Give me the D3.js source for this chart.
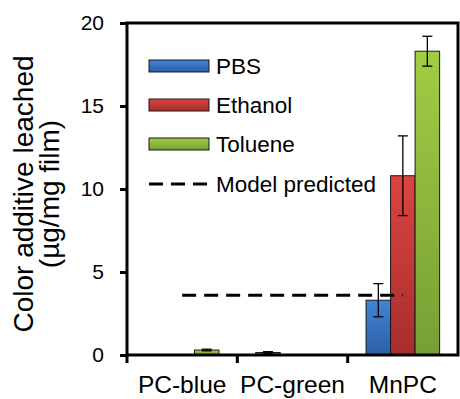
<!DOCTYPE html>
<html>
<head>
<meta charset="utf-8">
<script src="https://cdn.jsdelivr.net/npm/d3@7"></script>
<style>
  body { margin: 0; background: #fff; }
  text { font-family: Arial, "Liberation Sans", sans-serif; fill: #000; }
</style>
</head>
<body>
<script>
var width = 460, height = 399;
var margin = { top: 23, right: 2, bottom: 44, left: 127 };

// data
var categories = ['PC-blue', 'PC-green', 'MnPC'];
var series = ['PBS', 'Ethanol', 'Toluene'];
var pbs = [0, 0.15, 3.3];
var pbsErr = [0, 0.05, 1.0];
var ethanol = [0, 0, 10.8];
var ethanolErr = [0, 0, 2.4];
var toluene = [0.3, 0, 18.3];
var tolueneErr = [0.05, 0, 0.9];
var modelPredicted = 3.6;
var yTicks = [0, 5, 10, 15, 20];

var values = [pbs, ethanol, toluene];
var errors = [pbsErr, ethanolErr, tolueneErr];
var colors = {
  PBS: ['#4384d6', '#2c5ea6'],
  Ethanol: ['#dc4440', '#a62e2c'],
  Toluene: ['#a2cc44', '#76a034']
};

var svg = d3.select('body').append('svg')
  .attr('width', width)
  .attr('height', height);

var defs = svg.append('defs');
series.forEach(function(s){
  var g = defs.append('linearGradient')
    .attr('id', 'grad-' + s)
    .attr('x1', 0).attr('y1', 0).attr('x2', 0).attr('y2', 1);
  g.append('stop').attr('offset', '0%').attr('stop-color', colors[s][0]);
  g.append('stop').attr('offset', '100%').attr('stop-color', colors[s][1]);
});

var x = d3.scaleBand()
  .domain(categories)
  .range([margin.left, width - margin.right]);

var xInner = d3.scaleBand()
  .domain(series)
  .range([0, x.bandwidth()])
  .paddingOuter(0.75);

var y = d3.scaleLinear()
  .domain([0, 20])
  .range([height - margin.bottom, margin.top]);

// bars
var rows = [];
categories.forEach(function(c, ci){
  series.forEach(function(s, si){
    rows.push({ cat: c, series: s, value: values[si][ci], err: errors[si][ci] });
  });
});

var bars = svg.append('g');
bars.selectAll('rect')
  .data(rows.filter(function(d){ return d.value > 0; }))
  .enter().append('rect')
  .attr('x', function(d){ return x(d.cat) + xInner(d.series); })
  .attr('y', function(d){ return y(d.value); })
  .attr('width', xInner.bandwidth())
  .attr('height', function(d){ return y(0) - y(d.value); })
  .attr('fill', function(d){ return 'url(#grad-' + d.series + ')'; })
  .attr('stroke', '#1a1a1a')
  .attr('stroke-width', 1);

// error bars
var eb = svg.append('g').attr('stroke', '#000').attr('stroke-width', 1.3);
rows.filter(function(d){ return d.err > 0; }).forEach(function(d){
  var cx = x(d.cat) + xInner(d.series) + xInner.bandwidth() / 2;
  var y1 = y(d.value + d.err), y2 = y(d.value - d.err);
  eb.append('line').attr('x1', cx).attr('x2', cx).attr('y1', y1).attr('y2', y2);
  eb.append('line').attr('x1', cx - 5).attr('x2', cx + 5).attr('y1', y1).attr('y2', y1);
  eb.append('line').attr('x1', cx - 5).attr('x2', cx + 5).attr('y1', y2).attr('y2', y2);
});

// model predicted line
svg.append('line')
  .attr('x1', x(categories[0]) + x.bandwidth() / 2)
  .attr('x2', x(categories[2]) + x.bandwidth() / 2)
  .attr('y1', y(modelPredicted))
  .attr('y2', y(modelPredicted))
  .attr('stroke', '#000')
  .attr('stroke-width', 3)
  .attr('stroke-dasharray', '14,8');

// frame
svg.append('rect')
  .attr('x', margin.left)
  .attr('y', margin.top)
  .attr('width', width - margin.right - margin.left)
  .attr('height', y(0) - margin.top)
  .attr('fill', 'none')
  .attr('stroke', '#000')
  .attr('stroke-width', 3);

// y axis
var yAxis = svg.append('g')
  .attr('transform', 'translate(' + margin.left + ',0)')
  .call(d3.axisLeft(y).tickValues(yTicks).tickSize(7).tickPadding(16).tickSizeOuter(0));
yAxis.select('.domain').remove();
yAxis.selectAll('line').attr('stroke-width', 3);
yAxis.selectAll('text').style('font-size', '21px').attr('fill', '#000');

// x axis: ticks at the group boundaries, labels centered
var xAxis = svg.append('g')
  .attr('transform', 'translate(0,' + y(0) + ')');
xAxis.selectAll('line.tick')
  .data(categories.slice(1))
  .enter().append('line')
  .attr('x1', function(c){ return x(c); })
  .attr('x2', function(c){ return x(c); })
  .attr('y1', 0).attr('y2', 8)
  .attr('stroke', '#000').attr('stroke-width', 3);
xAxis.append('line')
  .attr('x1', margin.left).attr('x2', margin.left)
  .attr('y1', 0).attr('y2', 8)
  .attr('stroke', '#000').attr('stroke-width', 3);
xAxis.selectAll('text')
  .data(categories)
  .enter().append('text')
  .attr('x', function(c){ return x(c) + x.bandwidth() / 2; })
  .attr('y', 37.5)
  .attr('text-anchor', 'middle')
  .style('font-size', '24.5px')
  .text(function(c){ return c; });

// y title
var title = svg.append('text')
  .attr('transform', 'translate(23,194) rotate(-90)')
  .attr('text-anchor', 'middle')
  .style('font-size', '28px');
title.append('tspan').attr('x', 0).attr('dy', '0.35em').text('Color additive leached');
title.append('tspan').attr('x', 0).attr('dy', '0.93em').text('(µg/mg film)');

// legend
var legend = svg.append('g');
var legendY = [66, 105, 144, 184];
series.forEach(function(s, i){
  legend.append('rect')
    .attr('x', 149).attr('y', legendY[i] - 6)
    .attr('width', 60).attr('height', 12)
    .attr('fill', 'url(#grad-' + s + ')')
    .attr('stroke', '#1a1a1a').attr('stroke-width', 1);
  legend.append('text')
    .attr('x', 216).attr('y', legendY[i])
    .attr('dy', '0.36em')
    .style('font-size', '22.5px')
    .text(s);
});
legend.append('line')
  .attr('x1', 149).attr('x2', 209)
  .attr('y1', legendY[3]).attr('y2', legendY[3])
  .attr('stroke', '#000').attr('stroke-width', 3)
  .attr('stroke-dasharray', '14,8');
legend.append('text')
  .attr('x', 216).attr('y', legendY[3])
  .attr('dy', '0.36em')
  .style('font-size', '22.5px')
  .text('Model predicted');
</script>
</body>
</html>
